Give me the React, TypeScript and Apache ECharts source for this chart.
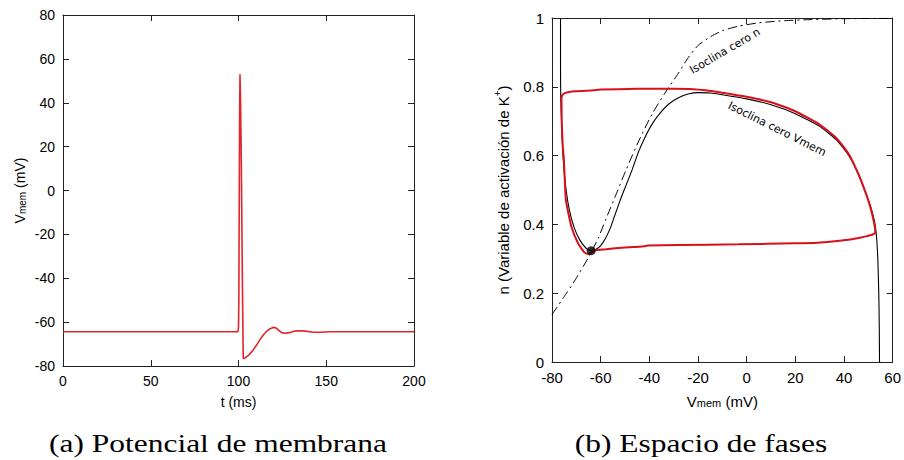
import React, { useEffect, useRef } from "react";
import * as echarts from "echarts";

// (a) membrane potential trace
const timeMs = [0, 99.7, 100.0, 100.2, 100.4, 100.6, 100.85, 101.2, 101.7, 102.2, 102.7, 104, 106, 108, 110, 112, 114, 116, 118, 119.8, 121.5, 123, 124.5, 126.5, 129, 131, 133, 135, 138, 142.6, 147, 152, 158, 200];
const vMemTrace = [-64.4, -64.4, -62, -50, -10, 30, 53, 40, 5, -40, -76.6, -76.2, -74.9, -73.1, -70.8, -68.3, -66.0, -64.2, -63.0, -62.4, -62.7, -63.8, -64.8, -65.1, -64.8, -64.3, -64.0, -63.9, -64.1, -64.6, -64.6, -64.4, -64.4, -64.4];

// (b) phase space: V nullcline (solid black)
const vNullV = [-76.5, -76.5, -76.4, -76.0, -75.3, -74.2, -72.8, -71.0, -68.6, -65.9, -63.9, -62.0, -60.0, -58.0, -56.0, -54.4, -52.0, -49.5, -47.0, -44.5, -42.0, -39.0, -36.0, -32.0, -28.0, -24.0, -20.0, -15.0, -10.0, 0, 10, 20, 30, 37, 42, 46, 49, 51, 52.5, 53.3, 53.9, 54.3, 54.5, 54.6];
const vNullN = [1.0, 0.85, 0.77, 0.68, 0.58, 0.5, 0.44, 0.393, 0.355, 0.33, 0.3236, 0.327, 0.338, 0.36, 0.39, 0.422, 0.47, 0.515, 0.56, 0.61, 0.65, 0.69, 0.72, 0.75, 0.768, 0.779, 0.783, 0.782, 0.777, 0.765, 0.748, 0.722, 0.685, 0.645, 0.6, 0.545, 0.49, 0.45, 0.41, 0.37, 0.3, 0.2, 0.1, 0.0];

// n nullcline (dash-dot)
const nNullV = [-80, -75, -71.3, -68, -64.5, -61, -57.7, -53.5, -49.6, -44.2, -38.7, -33.3, -28, -24, -20, -15, -10, -3.5, 5, 15, 25, 40, 60];
const nNullN = [0.138, 0.19, 0.229, 0.268, 0.31, 0.36, 0.418, 0.49, 0.558, 0.645, 0.723, 0.785, 0.84, 0.885, 0.92, 0.945, 0.963, 0.976, 0.986, 0.992, 0.995, 0.998, 0.999];

// limit cycle trajectory (red)
const cycleV = [-63.9, -62.5, -57.8, -50, -44.2, -41.5, -40.5, -27.9, -3.5, 20, 29.1, 37.2, 42.6, 47, 49.4, 51.5, 52.8, 52.8, 52.2, 50.8, 49, 46, 42, 37, 30, 20, 10, 0, -10, -17, -22, -30, -45, -60, -64.5, -70, -73, -75, -75.8, -76.1, -76.0, -75.6, -75.1, -74.3, -72.0, -69.3, -66.6, -64.8, -63.2, -62.5];
const cycleN = [0.3236, 0.325, 0.328, 0.333, 0.335, 0.337, 0.339, 0.34, 0.342, 0.345, 0.347, 0.352, 0.356, 0.362, 0.366, 0.37, 0.376, 0.384, 0.41, 0.451, 0.49, 0.545, 0.604, 0.65, 0.69, 0.729, 0.755, 0.771, 0.783, 0.79, 0.793, 0.794, 0.794, 0.792, 0.789, 0.787, 0.785, 0.781, 0.775, 0.767, 0.7, 0.63, 0.587, 0.471, 0.393, 0.345, 0.318, 0.313, 0.321, 0.325];

const fixedPoint = [-63.9, 0.3236];

const xTicksA = { min: 0, max: 200, interval: 50 };
const yTicksA = { min: -80, max: 80, interval: 20 };
const xTicksB = { min: -80, max: 60, interval: 20 };
const yTicksB = { min: 0, max: 1, interval: 0.2 };

const zip = (a: number[], b: number[]) => a.map((v, i) => [v, b[i]]);

const FRAME = "#222";
const SANS = "Liberation Sans";

function axis(grid: number, pos: string, range: any, labels: boolean, fs: number, extra: any = {}) {
  return {
    type: "value",
    gridIndex: grid,
    position: pos,
    ...range,
    axisLine: { show: true, onZero: false, lineStyle: { color: FRAME, width: 1 } },
    axisTick: { show: true, inside: true, length: 6, lineStyle: { color: FRAME, width: 1 } },
    splitLine: { show: false },
    axisLabel: {
      show: labels,
      color: "#000",
      fontSize: fs,
      fontFamily: SANS,
      margin: 8,
    },
    ...extra,
  };
}

export default function App() {
  const ref = useRef<HTMLDivElement>(null);
  useEffect(() => {
    if (!ref.current) return;
    const chart = echarts.init(ref.current, undefined, { renderer: "svg" });
    const subRich = (fs: number, sfs: number) => ({
      v: { fontSize: fs, fontFamily: SANS, color: "#000", lineHeight: fs, verticalAlign: "top" },
      s: { fontSize: sfs, fontFamily: SANS, color: "#000", lineHeight: sfs, padding: [Math.round(fs * 0.55), 0, 0, 0], verticalAlign: "bottom" },
      sup: { fontSize: sfs, fontFamily: SANS, color: "#000", lineHeight: sfs, verticalAlign: "top" },
      t: { fontSize: fs, fontFamily: SANS, color: "#000", lineHeight: fs + 4, verticalAlign: "bottom" },
    });
    chart.setOption({
      animation: false,
      backgroundColor: "#fff",
      grid: [
        { left: 63, top: 15, width: 351, height: 351 },
        { left: 552, top: 18, width: 344, height: 344 },
      ],
      xAxis: [
        axis(0, "bottom", xTicksA, true, 14, {
          name: "t (ms)",
          nameLocation: "middle",
          nameGap: 29,
          nameTextStyle: { fontSize: 14, fontFamily: SANS, color: "#000" },
        }),
        axis(0, "top", xTicksA, false, 14),
        axis(1, "bottom", xTicksB, true, 15, {
          name: "{v|V}{s|mem}{v| (mV)}",
          nameLocation: "middle",
          nameGap: 29,
          nameTextStyle: { rich: subRich(15, 11) },
        }),
        axis(1, "top", xTicksB, false, 15),
      ],
      yAxis: [
        axis(0, "left", yTicksA, true, 14, {
          name: "{v|V}{s|mem}{v| (mV)}",
          nameLocation: "middle",
          nameGap: 36,
          nameTextStyle: { rich: subRich(14, 10) },
        }),
        axis(0, "right", yTicksA, false, 14),
        axis(1, "left", yTicksB, true, 15, {
          name: "{t|n (Variable de activación de K}{sup|+}{t|)}",
          nameLocation: "middle",
          nameGap: 41,
          nameTextStyle: { rich: subRich(15, 10) },
        }),
        axis(1, "right", yTicksB, false, 15),
      ],
      series: [
        {
          type: "line",
          xAxisIndex: 0,
          yAxisIndex: 0,
          data: zip(timeMs, vMemTrace),
          showSymbol: false,
          lineStyle: { color: "#e3242b", width: 1.6 },
        },
        {
          type: "line",
          xAxisIndex: 2,
          yAxisIndex: 2,
          data: zip(nNullV, nNullN),
          showSymbol: false,
          smooth: 0.2,
          lineStyle: { color: "#000", width: 1, type: [9, 4, 2, 4] },
        },
        {
          type: "line",
          xAxisIndex: 2,
          yAxisIndex: 2,
          data: zip(vNullV, vNullN),
          showSymbol: false,
          smooth: 0.15,
          lineStyle: { color: "#000", width: 1.1 },
        },
        {
          type: "line",
          xAxisIndex: 2,
          yAxisIndex: 2,
          data: zip(cycleV, cycleN),
          showSymbol: false,
          smooth: 0.15,
          lineStyle: { color: "#d7101c", width: 2 },
        },
        {
          type: "scatter",
          xAxisIndex: 2,
          yAxisIndex: 2,
          data: [fixedPoint],
          symbolSize: 9,
          itemStyle: { color: "#000" },
          z: 5,
        },
      ],
      graphic: [
        {
          type: "text",
          x: 725,
          y: 51,
          rotation: (30.4 * Math.PI) / 180,
          style: { text: "Isoclina cero n", fontSize: 11, fontFamily: "DejaVu Sans", fill: "#000", align: "center", verticalAlign: "middle" },
        },
        {
          type: "text",
          x: 777,
          y: 129,
          rotation: (-26.6 * Math.PI) / 180,
          style: { text: "Isoclina cero Vmem", fontSize: 11, fontFamily: "DejaVu Sans", fill: "#000", align: "center", verticalAlign: "middle" },
        },
        {
          type: "text",
          x: 218,
          y: 443,
          scaleX: 1.21,
          style: { text: "(a) Potencial de membrana", fontSize: 26, fontFamily: "Liberation Serif", fill: "#000", align: "center", verticalAlign: "middle" },
        },
        {
          type: "text",
          x: 701,
          y: 443,
          scaleX: 1.21,
          style: { text: "(b) Espacio de fases", fontSize: 26, fontFamily: "Liberation Serif", fill: "#000", align: "center", verticalAlign: "middle" },
        },
      ],
    });
    return () => chart.dispose();
  }, []);
  return <div ref={ref} style={{ position: "fixed", left: 0, top: 0, width: "904px", height: "460px" }} />;
}
